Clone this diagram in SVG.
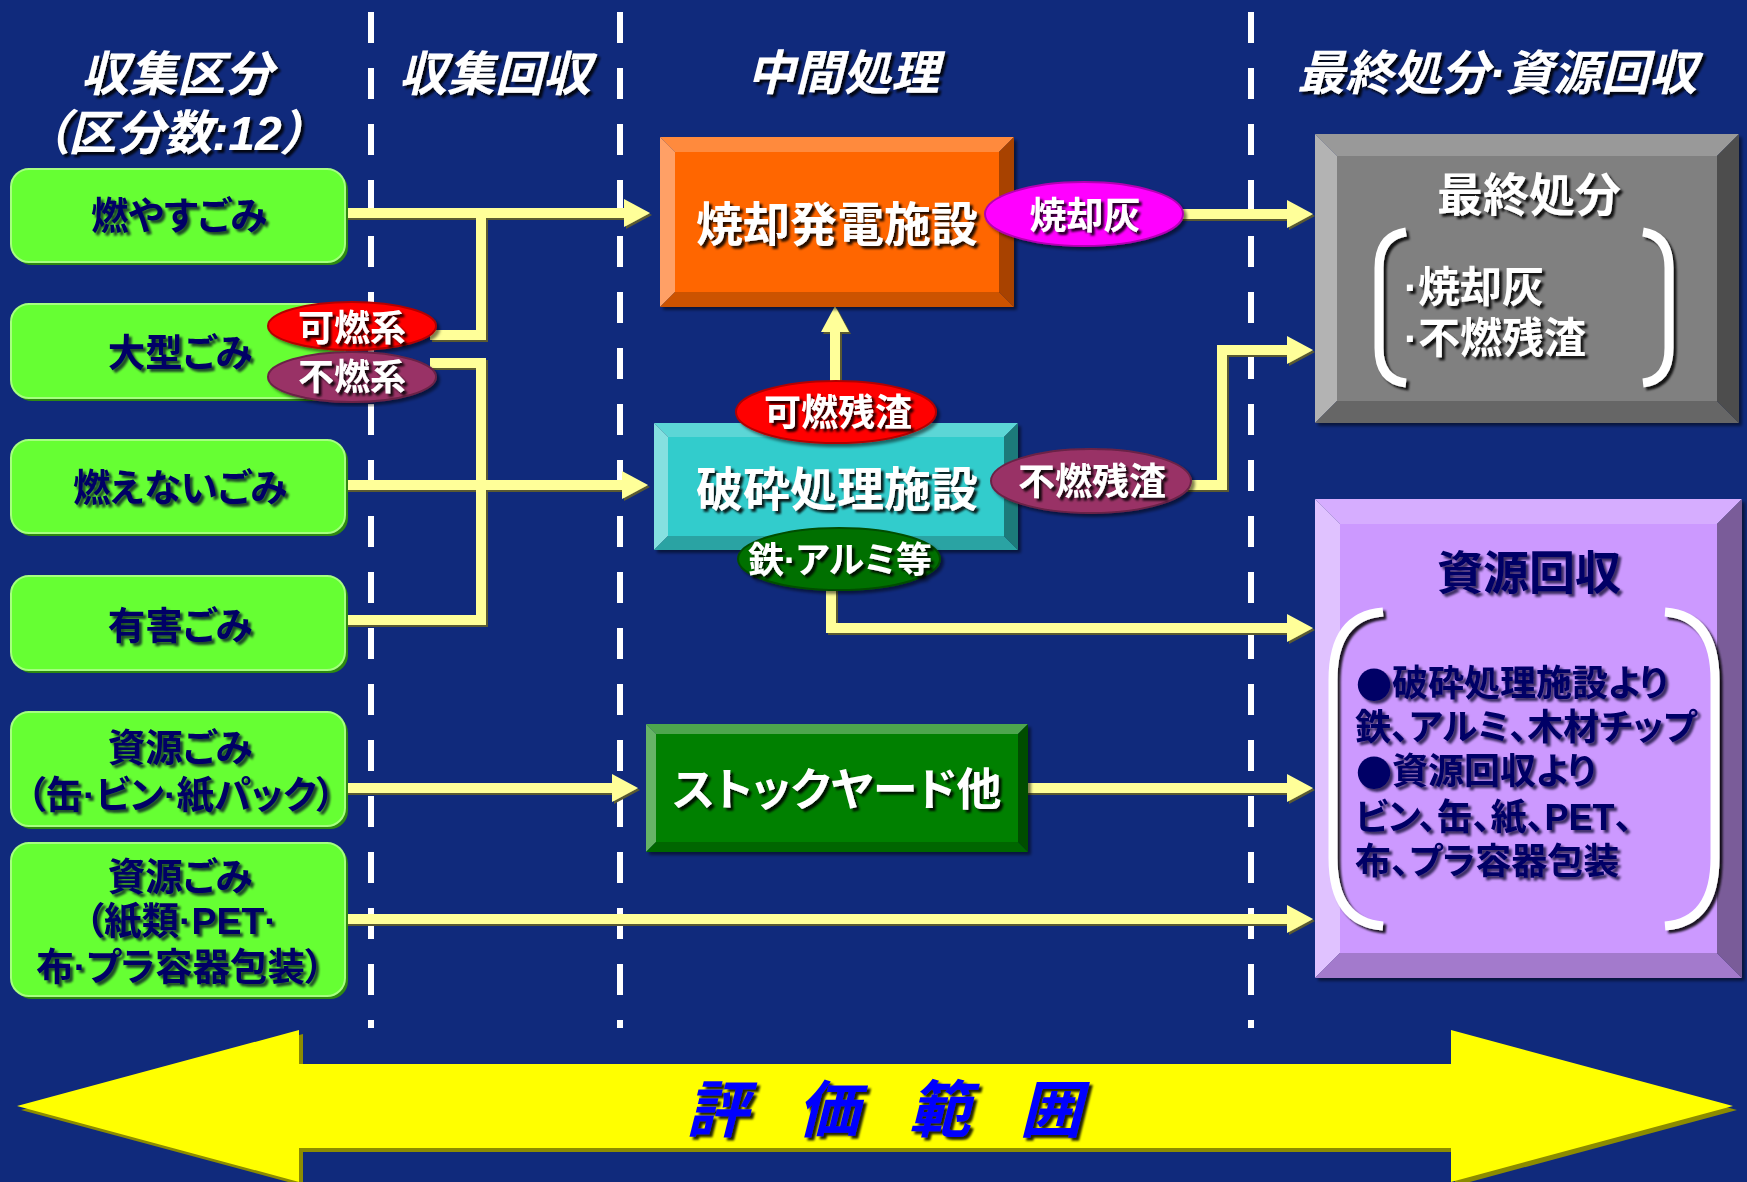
<svg xmlns="http://www.w3.org/2000/svg" width="1747" height="1182" viewBox="0 0 1747 1182">
<defs>
<style>
text { font-family: "Liberation Sans", "Noto Sans CJK JP", sans-serif; font-weight: bold; font-feature-settings: "palt"; dominant-baseline: central; }
.hdr { font-size: 48px; font-style: italic; fill: #ffffff; text-anchor: middle; }
.gt { font-size: 37.5px; fill: #000066; text-anchor: middle; }
.bt { font-size: 47px; fill: #ffffff; text-anchor: middle; }
.lt { font-size: 37px; fill: #ffffff; text-anchor: middle; }
.pt { font-size: 36px; fill: #000066; }
.blt { font-family: "Noto Sans CJK JP", sans-serif; }
.gy { font-size: 42px; fill: #ffffff; }
.dash { stroke: #ffffff; stroke-width: 6; stroke-dasharray: 31 25; fill: none; }
.conn { fill: none; stroke: #FFFF99; stroke-width: 10; stroke-linejoin: miter; }
.gbox { fill: #66FF33; stroke: #A6FF80; stroke-width: 2; }
.gsh { fill: #2E8A10; }
.brk { fill: none; stroke: #ffffff; stroke-width: 9; stroke-linecap: butt; }
</style>
<filter id="tsh" x="-10%" y="-20%" width="130%" height="150%"><feDropShadow dx="3" dy="3" stdDeviation="1" flood-color="#000000" flood-opacity="0.85"/></filter>
<filter id="tshn" x="-10%" y="-20%" width="130%" height="150%"><feDropShadow dx="3" dy="3" stdDeviation="1" flood-color="#000022" flood-opacity="0.7"/></filter>
<filter id="lsh" x="-5%" y="-5%" width="110%" height="110%"><feDropShadow dx="2" dy="2" stdDeviation="0.7" flood-color="#5a5a30" flood-opacity="1"/></filter>
<filter id="bsh" x="-5%" y="-5%" width="110%" height="115%"><feDropShadow dx="3" dy="3" stdDeviation="1.5" flood-color="#000000" flood-opacity="0.5"/></filter>
<marker id="ah" markerUnits="userSpaceOnUse" markerWidth="26" markerHeight="28" viewBox="0 0 26 28" refX="2" refY="14" orient="auto"><path d="M0,0 L26,14 L0,28 z" fill="#FFFF99"/></marker>
</defs>

<rect x="0" y="0" width="1747" height="1182" fill="#102A7C"/>

<g id="lane-dividers">
<line class="dash" x1="371" y1="12" x2="371" y2="1028"/>
<line class="dash" x1="620" y1="12" x2="620" y2="1028"/>
<line class="dash" x1="1251" y1="12" x2="1251" y2="1028"/>
</g>

<g id="headers" filter="url(#tsh)">
<text class="hdr" x="177" y="74">収集区分</text>
<text class="hdr" x="175" y="133">（区分数:12）</text>
<text class="hdr" x="495" y="74">収集回収</text>
<text class="hdr" x="843" y="73">中間処理</text>
<text class="hdr" x="1497" y="73">最終処分·資源回収</text>
</g>

<g id="connectors" class="conn" filter="url(#lsh)">
<path d="M345 213 H626" marker-end="url(#ah)"/>
<path d="M430 335 H481 V213"/>
<path d="M430 363 H481 V620 H345"/>
<path d="M345 485 H624" marker-end="url(#ah)"/>
<path d="M835 392 V330" marker-end="url(#ah)"/>
<path d="M1170 214 H1289" marker-end="url(#ah)"/>
<path d="M1180 485 H1222 V350 H1289" marker-end="url(#ah)"/>
<path d="M831 575 V628 H1289" marker-end="url(#ah)"/>
<path d="M345 788 H614" marker-end="url(#ah)"/>
<path d="M1020 788 H1289" marker-end="url(#ah)"/>
<path d="M345 919 H1289" marker-end="url(#ah)"/>
</g>

<g id="node-moyasu">
<rect class="gsh" x="14" y="172" width="334" height="93" rx="18"/>
<rect class="gbox" x="11" y="169" width="334" height="93" rx="18"/>
<text class="gt" x="179" y="216" filter="url(#tshn)">燃やすごみ</text>
</g>
<g id="node-ogata">
<rect class="gsh" x="14" y="307" width="334" height="94" rx="18"/>
<rect class="gbox" x="11" y="304" width="334" height="94" rx="18"/>
<text class="gt" x="180" y="353" filter="url(#tshn)">大型ごみ</text>
</g>
<g id="node-moenai">
<rect class="gsh" x="14" y="443" width="334" height="93" rx="18"/>
<rect class="gbox" x="11" y="440" width="334" height="93" rx="18"/>
<text class="gt" x="180" y="488" filter="url(#tshn)">燃えないごみ</text>
</g>
<g id="node-yugai">
<rect class="gsh" x="14" y="579" width="334" height="94" rx="18"/>
<rect class="gbox" x="11" y="576" width="334" height="94" rx="18"/>
<text class="gt" x="180" y="626" filter="url(#tshn)">有害ごみ</text>
</g>
<g id="node-shigen1">
<rect class="gsh" x="14" y="715" width="334" height="114" rx="18"/>
<rect class="gbox" x="11" y="712" width="334" height="114" rx="18"/>
<g filter="url(#tshn)">
<text class="gt" x="180" y="748">資源ごみ</text>
<text class="gt" x="181" y="795">（缶·ビン·紙パック）</text>
</g>
</g>
<g id="node-shigen2">
<rect class="gsh" x="14" y="846" width="334" height="153" rx="18"/>
<rect class="gbox" x="11" y="843" width="334" height="153" rx="18"/>
<g filter="url(#tshn)">
<text class="gt" x="180" y="877">資源ごみ</text>
<text class="gt" x="181" y="921">（紙類·PET·</text>
<text class="gt" x="180" y="967">布·プラ容器包装）</text>
</g>
</g>

<g id="node-shokyaku" filter="url(#bsh)">
<rect x="675" y="152" width="324" height="140" fill="#FF6600"/>
<polygon points="660,137 1014,137 999,152 675,152" fill="#FF8A3D"/>
<polygon points="660,137 675,152 675,292 660,307" fill="#FFA066"/>
<polygon points="660,307 675,292 999,292 1014,307" fill="#CC5200"/>
<polygon points="1014,137 1014,307 999,292 999,152" fill="#A84300"/>
<text class="bt" x="837" y="224" filter="url(#tsh)">焼却発電施設</text>
</g>

<g id="node-hasai" filter="url(#bsh)">
<rect x="668" y="437" width="336" height="99" fill="#33CCCC"/>
<polygon points="654,423 1018,423 1004,437 668,437" fill="#5CD6D6"/>
<polygon points="654,423 668,437 668,536 654,550" fill="#85E0E0"/>
<polygon points="654,550 668,536 1004,536 1018,550" fill="#29A3A3"/>
<polygon points="1018,423 1018,550 1004,536 1004,437" fill="#1F7A7A"/>
<text class="bt" x="837" y="489" filter="url(#tsh)">破砕処理施設</text>
</g>

<g id="node-stockyard" filter="url(#bsh)">
<rect x="656" y="734" width="362" height="108" fill="#008000"/>
<polygon points="646,724 1028,724 1018,734 656,734" fill="#4DA64D"/>
<polygon points="646,724 656,734 656,842 646,852" fill="#66B366"/>
<polygon points="646,852 656,842 1018,842 1028,852" fill="#006600"/>
<polygon points="1028,724 1028,852 1018,842 1018,734" fill="#004D00"/>
<text class="bt" x="837" y="790" style="font-size:45px" filter="url(#tsh)">ストックヤード他</text>
</g>

<g id="node-saishu" filter="url(#bsh)">
<rect x="1337" y="156" width="380" height="245" fill="#808080"/>
<polygon points="1315,134 1739,134 1717,156 1337,156" fill="#999999"/>
<polygon points="1315,134 1337,156 1337,401 1315,423" fill="#B3B3B3"/>
<polygon points="1315,423 1337,401 1717,401 1739,423" fill="#666666"/>
<polygon points="1739,134 1739,423 1717,401 1717,156" fill="#4D4D4D"/>
<g filter="url(#tsh)">
<text class="bt" x="1529" y="195" style="font-size:46px">最終処分</text>
<path class="brk" d="M1406 232 Q1379 236 1379 268 L1379 348 Q1379 380 1406 383"/>
<path class="brk" d="M1643 232 Q1669 236 1669 268 L1669 348 Q1669 380 1643 383"/>
<text class="gy" x="1404" y="287">·焼却灰</text>
<text class="gy" x="1404" y="338">·不燃残渣</text>
</g>
</g>

<g id="node-shigenkaishu" filter="url(#bsh)">
<rect x="1340" y="524" width="377" height="429" fill="#CC99FF"/>
<polygon points="1315,499 1742,499 1717,524 1340,524" fill="#D6ADFF"/>
<polygon points="1315,499 1340,524 1340,953 1315,978" fill="#E0C2FF"/>
<polygon points="1315,978 1340,953 1717,953 1742,978" fill="#A37ACC"/>
<polygon points="1742,499 1742,978 1717,953 1717,524" fill="#7A5C99"/>
<g filter="url(#tsh)">
<path class="brk" d="M1383 612 Q1333 616 1333 680 L1333 858 Q1333 922 1383 926"/>
<path class="brk" d="M1665 612 Q1715 616 1715 680 L1715 858 Q1715 922 1665 926"/>
</g>
<g filter="url(#tshn)">
<text class="gt" x="1529" y="573" style="font-size:46px">資源回収</text>
<text class="pt"><tspan x="1356" y="683"><tspan class="blt">●</tspan>破砕処理施設より</tspan><tspan x="1355" y="727">鉄、アルミ、木材チップ</tspan><tspan x="1356" y="771"><tspan class="blt">●</tspan>資源回収より</tspan><tspan x="1355" y="817">ビン、缶、紙、PET、</tspan><tspan x="1355" y="861">布、プラ容器包装</tspan></text>
</g>
</g>

<g id="label-kanen" filter="url(#bsh)">
<ellipse cx="352" cy="326" rx="84" ry="24" fill="#FF0000" stroke="#B30000" stroke-width="2"/>
<text class="lt" x="352" y="328" style="font-size:36px" filter="url(#tsh)">可燃系</text>
</g>
<g id="label-funen" filter="url(#bsh)">
<ellipse cx="352" cy="377" rx="84" ry="25" fill="#993366" stroke="#6B2347" stroke-width="2"/>
<text class="lt" x="352" y="377" style="font-size:36px" filter="url(#tsh)">不燃系</text>
</g>
<g id="label-shokyakubai" filter="url(#bsh)">
<ellipse cx="1084" cy="214" rx="99" ry="32" fill="#FF00FF" stroke="#B300B3" stroke-width="2"/>
<text class="lt" x="1085" y="216" filter="url(#tsh)">焼却灰</text>
</g>
<g id="label-kanenzansa" filter="url(#bsh)">
<ellipse cx="836" cy="412" rx="100" ry="31" fill="#FF0000" stroke="#B30000" stroke-width="2"/>
<text class="lt" x="838" y="413" filter="url(#tsh)">可燃残渣</text>
</g>
<g id="label-funenzansa" filter="url(#bsh)">
<ellipse cx="1091" cy="481" rx="100" ry="32" fill="#993366" stroke="#6B2347" stroke-width="2"/>
<text class="lt" x="1092" y="482" filter="url(#tsh)">不燃残渣</text>
</g>
<g id="label-tetsu" filter="url(#bsh)">
<ellipse cx="839" cy="559" rx="101" ry="31" fill="#007000" stroke="#004D00" stroke-width="2"/>
<text class="lt" x="840" y="560" style="font-size:36px" filter="url(#tsh)">鉄·アルミ等</text>
</g>

<g id="scope-arrow">
<polygon points="21,1110 303,1034 303,1068 1455,1068 1455,1034 1737,1110 1455,1186 1455,1152 303,1152 303,1186" fill="#8C8C00"/>
<polygon points="17,1106 299,1030 299,1064 1451,1064 1451,1030 1733,1106 1451,1182 1451,1148 299,1148 299,1182" fill="#FFFF00"/>
<text x="686" y="1110" filter="url(#tsh)" style="font-size:62px; font-style:italic; fill:#0000FF; letter-spacing:16px">評 価 範 囲</text>
</g>
</svg>
